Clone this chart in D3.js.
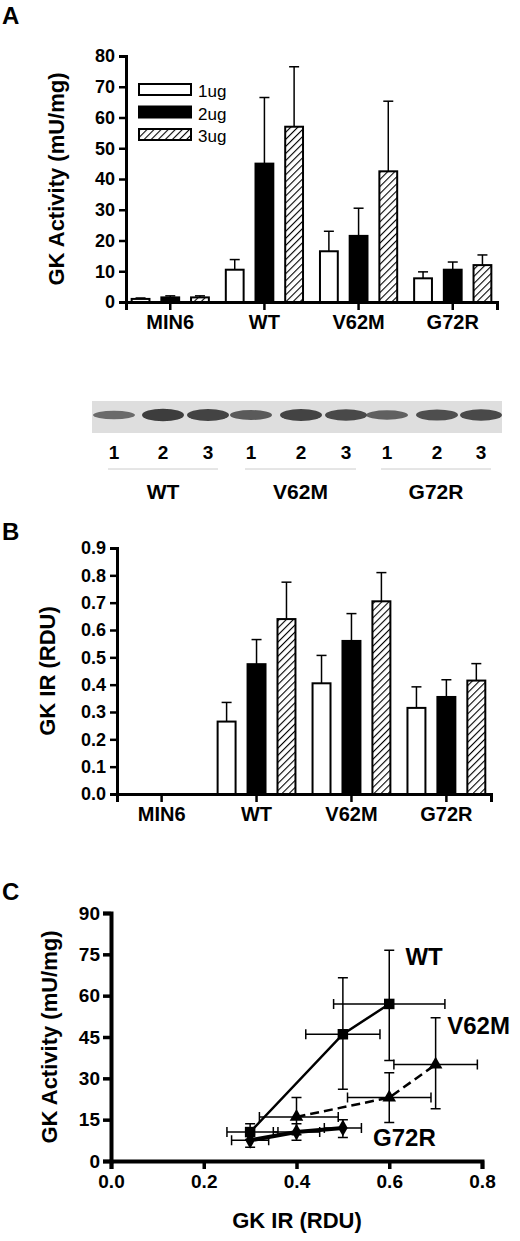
<!DOCTYPE html><html><head><meta charset="utf-8">
<script src="https://cdnjs.cloudflare.com/ajax/libs/d3/7.8.5/d3.min.js"></script>
<style>body{margin:0;background:#fff}text{font-family:"Liberation Sans",Arial,sans-serif;font-weight:bold}</style></head><body>
<svg id="s" width="520" height="1241"></svg>
<script>
const groups=["MIN6","WT","V62M","G72R"];
const doses=["1ug","2ug","3ug"];
const actMean=[[1,1.5,1.5],[10.5,45,57],[16.5,21.5,42.5],[7.7,10.5,12]];
const actErr=[[0.3,0.5,0.5],[3.3,21.5,19.5],[6.5,9,22.8],[2.1,2.5,3.3]];
const irMean=[[null,null,null],[0.265,0.475,0.64],[0.405,0.56,0.705],[0.315,0.355,0.415]];
const irErr=[[0,0,0],[0.07,0.09,0.135],[0.102,0.1,0.105],[0.077,0.063,0.062]];
const aTicks=[0,10,20,30,40,50,60,70,80];
const bTicks=[0,0.1,0.2,0.3,0.4,0.5,0.6,0.7,0.8,0.9];
const lanes=["1","2","3","1","2","3","1","2","3"];
const blotGroups=["WT","V62M","G72R"];
const laneIntensity=[0.45,0.85,0.8,0.6,0.8,0.75,0.55,0.7,0.75];
const cSeries=[
 {name:"WT",sym:"square",dash:null,w:2.5,pts:[[0.3,10.5,0.25,0.36,7.8,13.5],[0.5,46,0.42,0.58,26,66.5],[0.6,57,0.48,0.72,36.5,76.5]],lab:[0.635,71]},
 {name:"V62M",sym:"triangle",dash:"9,5",w:2.5,pts:[[0.4,16,0.32,0.49,9.5,23],[0.6,23,0.51,0.69,14,32],[0.7,35,0.61,0.79,19,52]],lab:[0.725,46]},
 {name:"G72R",sym:"diamond",dash:null,w:4,pts:[[0.3,7.5,0.26,0.34,5,9.8],[0.4,10.5,0.35,0.45,7.5,13.5],[0.5,12,0.46,0.54,8.5,15]],lab:[0.565,5.5]}
];
const xTicksC=[0,0.2,0.4,0.6,0.8];
const yTicksC=[0,15,30,45,60,75,90];

const svg=d3.select("#s");
const defs=svg.append("defs");
const pat=defs.append("pattern").attr("id","hatch").attr("patternUnits","userSpaceOnUse").attr("width",5).attr("height",5).attr("patternTransform","rotate(45)");
pat.append("rect").attr("width",5).attr("height",5).attr("fill","#fff");
pat.append("line").attr("x1",0).attr("y1",0).attr("x2",0).attr("y2",5).attr("stroke","#000").attr("stroke-width",2.2);
const fills=["#fff","#000","url(#hatch)"];

function barPanel(x0,x1,y0,y1,domainMax,ticks,fmt,means,errs,title){
  const y=d3.scaleLinear().domain([0,domainMax]).range([y0,y1]);
  const x=d3.scaleBand().domain(groups).range([x0,x1]).paddingInner(0.18).paddingOuter(0.06);
  const xs=d3.scaleBand().domain(doses).range([0,x.bandwidth()]).paddingInner(0.4);
  const g=svg.append("g");
  groups.forEach((gr,i)=>doses.forEach((d,j)=>{
    const m=means[i][j]; if(m==null) return;
    const bx=x(gr)+xs(d), bw=xs.bandwidth(), cx=bx+bw/2;
    const e=errs[i][j];
    g.append("line").attr("x1",cx).attr("x2",cx).attr("y1",y(m)).attr("y2",y(m+e)).attr("stroke","#000").attr("stroke-width",1.5);
    g.append("line").attr("x1",cx-5).attr("x2",cx+5).attr("y1",y(m+e)).attr("y2",y(m+e)).attr("stroke","#000").attr("stroke-width",1.5);
    g.append("rect").attr("x",bx).attr("y",y(m)).attr("width",bw).attr("height",y(0)-y(m)).attr("fill",fills[j]).attr("stroke","#000").attr("stroke-width",2);
  }));
  const ya=g.append("g").attr("transform",`translate(${x0},0)`).call(d3.axisLeft(y).tickValues(ticks).tickFormat(fmt).tickSize(7));
  const xa=g.append("g").attr("transform",`translate(0,${y0})`).call(d3.axisBottom(x).tickSize(8));
  [ya,xa].forEach(a=>{a.attr("font-size",null).attr("font-family",null);a.select(".domain").attr("stroke-width",3);a.selectAll(".tick line").attr("stroke-width",2.5);});
  ya.selectAll("text").style("font-size","18px").attr("dx",-1);
  xa.selectAll("text").style("font-size","20px").attr("dy",16);
  g.append("text").attr("transform",`translate(${x0-62},${(y0+y1)/2}) rotate(-90)`).attr("text-anchor","middle").style("font-size","22px").text(title);
}
svg.append("text").attr("x",2).attr("y",24).style("font-size","24px").text("A");
barPanel(126,497,302,56,80,aTicks,d3.format("d"),actMean,actErr,"GK Activity (mU/mg)");
doses.forEach((d,j)=>{
  svg.append("rect").attr("x",139).attr("y",84+j*22.5).attr("width",52).attr("height",11).attr("fill",fills[j]).attr("stroke","#000").attr("stroke-width",2);
  svg.append("text").attr("x",198).attr("y",97+j*22.5).style("font-size","17px").style("font-weight","normal").text(d);
});
const blot=svg.append("g");
blot.append("rect").attr("x",92).attr("y",401).attr("width",410).attr("height",32).attr("fill","#dedede");
const laneX=[114,163,208,251,301,346,387,437,481];
lanes.forEach((l,i)=>{
  const c=laneX[i];
  blot.append("ellipse").attr("cx",c).attr("cy",415).attr("rx",21).attr("ry",2+5*laneIntensity[i]).attr("fill",d3.interpolateGreys(0.55+0.4*laneIntensity[i])).attr("opacity",0.85);
  svg.append("text").attr("x",c).attr("y",459).attr("text-anchor","middle").style("font-size","19px").text(l);
});
blotGroups.forEach((gname,k)=>{
  const a=laneX[k*3]-6,b=laneX[k*3+2]+10;
  svg.append("line").attr("x1",a).attr("x2",b).attr("y1",469).attr("y2",469).attr("stroke","#ccc").attr("stroke-width",1);
  svg.append("text").attr("x",(a+b)/2).attr("y",499).attr("text-anchor","middle").style("font-size","21px").text(gname);
});
svg.append("text").attr("x",2).attr("y",540).style("font-size","24px").text("B");
barPanel(117,491,794,548,0.9,bTicks,d3.format(".1f"),irMean,irErr,"GK IR (RDU)");

svg.append("text").attr("x",2).attr("y",900).style("font-size","24px").text("C");
const cx=d3.scaleLinear().domain([0,0.8]).range([111,482]);
const cy=d3.scaleLinear().domain([0,90]).range([1161,913]);
const gc=svg.append("g");
const symMap={square:d3.symbolSquare,triangle:d3.symbolTriangle,diamond:d3.symbolDiamond};
cSeries.forEach(s=>{
  s.pts.forEach(p=>{
    const [px,py,xl,xh,yl,yh]=p;
    const path=`M${cx(xl)},${cy(py)}H${cx(xh)}M${cx(xl)},${cy(py)-5}v10M${cx(xh)},${cy(py)-5}v10M${cx(px)},${cy(yl)}V${cy(yh)}M${cx(px)-5},${cy(yl)}h10M${cx(px)-5},${cy(yh)}h10`;
    gc.append("path").attr("d",path).attr("stroke","#000").attr("stroke-width",1.5).attr("fill","none");
  });
  gc.append("path").datum(s.pts).attr("d",d3.line().x(p=>cx(p[0])).y(p=>cy(p[1]))).attr("stroke","#000").attr("stroke-width",s.w).attr("fill","none").attr("stroke-dasharray",s.dash);
  s.pts.forEach(p=>gc.append("path").attr("d",d3.symbol(symMap[s.sym],s.sym==="square"?110:80)()).attr("transform",`translate(${cx(p[0])},${cy(p[1])})`).attr("fill","#000"));
  gc.append("text").attr("x",cx(s.lab[0])).attr("y",cy(s.lab[1])).style("font-size","24px").text(s.name);
});
const cxa=gc.append("g").attr("transform","translate(0,1161)").call(d3.axisBottom(cx).tickValues(xTicksC).tickFormat(d3.format(".1f")).tickSize(8));
const cya=gc.append("g").attr("transform","translate(111,0)").call(d3.axisLeft(cy).tickValues(yTicksC).tickSize(8));
[cxa,cya].forEach(a=>{a.attr("font-size",null).attr("font-family",null);a.select(".domain").attr("stroke-width",4);a.selectAll(".tick line").attr("stroke-width",3.5);});
cxa.selectAll("text").style("font-size","19px").attr("dy",16);
cya.selectAll("text").style("font-size","19px");
gc.append("text").attr("x",297).attr("y",1228).attr("text-anchor","middle").style("font-size","22px").text("GK IR (RDU)");
gc.append("text").attr("transform","translate(57,1037) rotate(-90)").attr("text-anchor","middle").style("font-size","22px").text("GK Activity (mU/mg)");
</script></body></html>
